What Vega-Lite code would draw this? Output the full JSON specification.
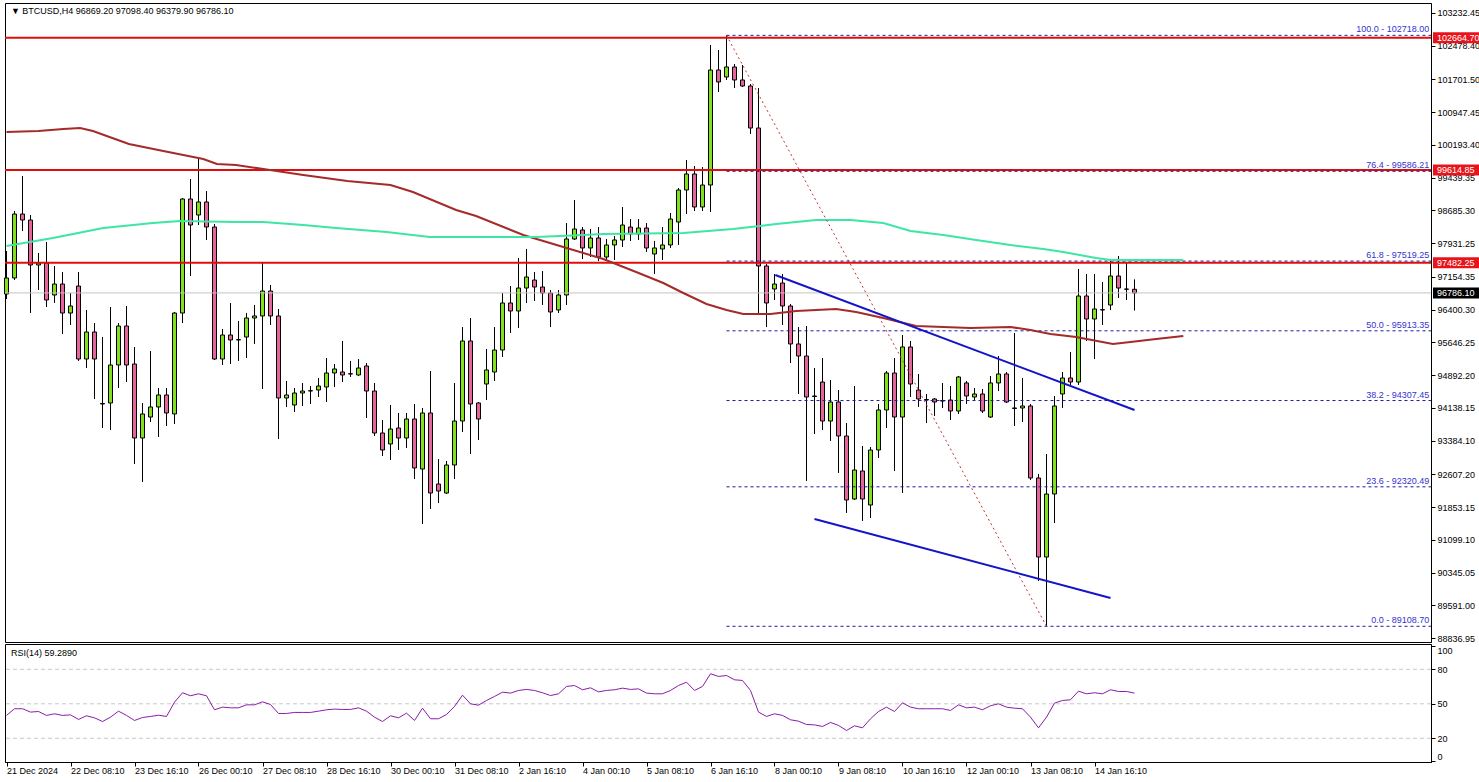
{
  "$schema": "https://vega.github.io/schema/vega-lite/v6.json",
  "padding": {"left": 2, "top": 2, "right": 0, "bottom": 0},
  "background": "white",
  "spacing": 2,
  "bounds": "flush",
  "config": {
    "view": {"stroke": "black", "strokeWidth": 1},
    "axis": {"labelFont": "Liberation Sans", "labelFontSize": 9, "labelColor": "black", "domainColor": "black", "tickColor": "black", "grid": false, "labelOverlap": false}
  },
  "datasets": {
    "candles": [
      {"i":0,"o":96761,"h":97751,"l":96646,"c":97130},
      {"i":1,"o":97130,"h":98673,"l":97083,"c":98603},
      {"i":2,"o":98603,"h":99479,"l":98212,"c":98465},
      {"i":3,"o":98465,"h":98580,"l":96323,"c":97429},
      {"i":4,"o":97429,"h":97705,"l":96853,"c":97475},
      {"i":5,"o":97475,"h":97959,"l":96462,"c":96623},
      {"i":6,"o":96738,"h":97406,"l":96554,"c":96991},
      {"i":7,"o":96991,"h":97268,"l":95840,"c":96323},
      {"i":8,"o":96323,"h":96784,"l":96047,"c":96485},
      {"i":9,"o":96945,"h":97268,"l":95218,"c":95264},
      {"i":10,"o":95264,"h":96393,"l":95057,"c":95886},
      {"i":11,"o":95886,"h":96093,"l":94343,"c":95264},
      {"i":12,"o":94228,"h":95771,"l":93675,"c":94240},
      {"i":13,"o":94251,"h":96462,"l":93629,"c":95126},
      {"i":14,"o":95126,"h":96093,"l":94596,"c":96024},
      {"i":15,"o":96024,"h":96485,"l":94734,"c":95126},
      {"i":16,"o":95149,"h":95541,"l":92846,"c":93445},
      {"i":17,"o":93445,"h":94251,"l":92432,"c":93998},
      {"i":18,"o":93928,"h":95448,"l":93813,"c":94159},
      {"i":19,"o":94159,"h":94596,"l":93468,"c":94435},
      {"i":20,"o":94435,"h":94596,"l":93721,"c":94021},
      {"i":21,"o":93998,"h":96347,"l":93767,"c":96323},
      {"i":22,"o":96323,"h":98972,"l":96093,"c":98949},
      {"i":23,"o":98949,"h":99410,"l":97176,"c":98350},
      {"i":24,"o":98580,"h":99893,"l":98350,"c":98880},
      {"i":25,"o":98880,"h":99133,"l":98005,"c":98304},
      {"i":26,"o":98304,"h":98373,"l":95241,"c":95264},
      {"i":27,"o":95264,"h":95955,"l":95126,"c":95817},
      {"i":28,"o":95817,"h":96554,"l":95149,"c":95702},
      {"i":29,"o":95702,"h":96139,"l":95218,"c":95710},
      {"i":30,"o":95771,"h":96323,"l":95287,"c":96208},
      {"i":31,"o":96208,"h":96508,"l":95610,"c":96255},
      {"i":32,"o":96255,"h":97475,"l":94573,"c":96830},
      {"i":33,"o":96830,"h":96968,"l":96047,"c":96255},
      {"i":34,"o":96255,"h":96416,"l":93422,"c":94366},
      {"i":35,"o":94366,"h":94758,"l":94159,"c":94435},
      {"i":36,"o":94205,"h":94596,"l":94044,"c":94481},
      {"i":37,"o":94481,"h":94712,"l":94182,"c":94527},
      {"i":38,"o":94527,"h":94642,"l":94228,"c":94535},
      {"i":39,"o":94550,"h":94827,"l":94389,"c":94642},
      {"i":40,"o":94619,"h":95287,"l":94274,"c":94942},
      {"i":41,"o":94942,"h":95149,"l":94619,"c":95034},
      {"i":42,"o":94965,"h":95679,"l":94734,"c":94896},
      {"i":43,"o":94919,"h":95218,"l":94850,"c":94925},
      {"i":44,"o":94896,"h":95264,"l":94873,"c":95057},
      {"i":45,"o":95103,"h":95172,"l":93905,"c":94527},
      {"i":46,"o":94527,"h":94712,"l":93491,"c":93560},
      {"i":47,"o":93560,"h":93859,"l":93030,"c":93168},
      {"i":48,"o":93307,"h":94205,"l":92938,"c":93652},
      {"i":49,"o":93675,"h":94021,"l":93168,"c":93445},
      {"i":50,"o":93445,"h":94021,"l":93215,"c":93882},
      {"i":51,"o":93882,"h":94228,"l":92501,"c":92754},
      {"i":52,"o":92731,"h":94136,"l":91464,"c":94021},
      {"i":53,"o":94021,"h":94988,"l":91810,"c":92178},
      {"i":54,"o":92385,"h":92961,"l":91948,"c":92224},
      {"i":55,"o":92178,"h":92915,"l":92155,"c":92823},
      {"i":56,"o":92823,"h":94712,"l":92501,"c":93836},
      {"i":57,"o":93836,"h":96001,"l":93583,"c":95679},
      {"i":58,"o":95679,"h":96208,"l":93076,"c":94228},
      {"i":59,"o":94251,"h":94274,"l":93399,"c":93882},
      {"i":60,"o":94688,"h":95495,"l":94320,"c":95011},
      {"i":61,"o":94965,"h":96001,"l":94758,"c":95471},
      {"i":62,"o":95471,"h":96784,"l":95310,"c":96554},
      {"i":63,"o":96554,"h":96945,"l":95863,"c":96370},
      {"i":64,"o":96370,"h":97590,"l":95978,"c":96899},
      {"i":65,"o":96899,"h":97798,"l":96554,"c":97153},
      {"i":66,"o":97083,"h":97268,"l":96600,"c":96922},
      {"i":67,"o":96922,"h":97291,"l":96508,"c":96784},
      {"i":68,"o":96784,"h":96853,"l":96001,"c":96347},
      {"i":69,"o":96393,"h":96853,"l":96323,"c":96738},
      {"i":70,"o":96738,"h":98396,"l":96508,"c":98028},
      {"i":71,"o":98028,"h":98926,"l":98005,"c":98258},
      {"i":72,"o":98235,"h":98304,"l":97567,"c":97821},
      {"i":73,"o":97821,"h":98258,"l":97613,"c":98051},
      {"i":74,"o":98051,"h":98304,"l":97521,"c":97613},
      {"i":75,"o":97613,"h":98028,"l":97521,"c":97890},
      {"i":76,"o":97890,"h":98097,"l":97544,"c":98005},
      {"i":77,"o":98005,"h":98765,"l":97844,"c":98350},
      {"i":78,"o":98304,"h":98488,"l":97982,"c":98143},
      {"i":79,"o":98143,"h":98488,"l":98005,"c":98281},
      {"i":80,"o":98281,"h":98396,"l":97728,"c":97821},
      {"i":81,"o":97682,"h":97982,"l":97222,"c":97821},
      {"i":82,"o":97798,"h":98304,"l":97544,"c":97890},
      {"i":83,"o":97890,"h":98627,"l":97821,"c":98488},
      {"i":84,"o":98419,"h":99202,"l":97890,"c":99156},
      {"i":85,"o":99156,"h":99847,"l":98603,"c":99525},
      {"i":86,"o":99525,"h":99709,"l":98673,"c":98765},
      {"i":87,"o":98765,"h":99686,"l":98673,"c":99271},
      {"i":88,"o":99271,"h":102496,"l":98650,"c":101920},
      {"i":89,"o":101920,"h":102380,"l":101413,"c":101644},
      {"i":90,"o":101759,"h":102718,"l":101690,"c":101989},
      {"i":91,"o":101989,"h":102058,"l":101505,"c":101690},
      {"i":92,"o":101690,"h":102035,"l":101528,"c":101551},
      {"i":93,"o":101551,"h":101597,"l":100446,"c":100584},
      {"i":94,"o":100584,"h":101505,"l":96300,"c":97406},
      {"i":95,"o":97406,"h":97452,"l":96001,"c":96554},
      {"i":96,"o":96876,"h":97222,"l":96623,"c":96991},
      {"i":97,"o":97014,"h":97222,"l":96047,"c":96485},
      {"i":98,"o":96485,"h":96531,"l":95172,"c":95610},
      {"i":99,"o":95610,"h":96001,"l":94458,"c":95333},
      {"i":100,"o":95333,"h":96024,"l":92455,"c":94389},
      {"i":101,"o":94412,"h":95057,"l":93537,"c":94400},
      {"i":102,"o":94734,"h":95287,"l":93629,"c":93836},
      {"i":103,"o":93836,"h":94781,"l":93376,"c":94274},
      {"i":104,"o":94274,"h":94550,"l":92639,"c":93491},
      {"i":105,"o":93491,"h":93790,"l":91718,"c":92017},
      {"i":106,"o":92040,"h":94642,"l":92017,"c":92708},
      {"i":107,"o":92685,"h":93261,"l":91533,"c":92040},
      {"i":108,"o":91902,"h":93238,"l":91602,"c":93168},
      {"i":109,"o":93168,"h":94228,"l":92984,"c":94090},
      {"i":110,"o":94090,"h":94988,"l":93675,"c":94942},
      {"i":111,"o":94942,"h":95287,"l":92685,"c":93928},
      {"i":112,"o":93928,"h":95817,"l":92178,"c":95541},
      {"i":113,"o":95541,"h":95679,"l":94389,"c":94688},
      {"i":114,"o":94550,"h":94919,"l":94159,"c":94343},
      {"i":115,"o":94320,"h":94458,"l":93790,"c":94330},
      {"i":116,"o":94343,"h":94366,"l":93952,"c":94274},
      {"i":117,"o":94297,"h":94712,"l":94136,"c":94305},
      {"i":118,"o":94320,"h":94642,"l":93859,"c":94067},
      {"i":119,"o":94067,"h":94873,"l":93998,"c":94850},
      {"i":120,"o":94712,"h":94758,"l":94228,"c":94412},
      {"i":121,"o":94389,"h":94596,"l":94320,"c":94458},
      {"i":122,"o":94458,"h":94573,"l":94021,"c":94067},
      {"i":123,"o":93928,"h":94873,"l":93905,"c":94712},
      {"i":124,"o":94712,"h":95333,"l":94527,"c":94919},
      {"i":125,"o":94919,"h":94965,"l":94251,"c":94274},
      {"i":126,"o":94136,"h":95863,"l":93721,"c":94125},
      {"i":127,"o":94136,"h":94827,"l":93813,"c":94182},
      {"i":128,"o":94182,"h":94228,"l":92478,"c":92524},
      {"i":129,"o":92524,"h":92616,"l":90152,"c":90704},
      {"i":130,"o":90704,"h":93076,"l":89108.7,"c":92155},
      {"i":131,"o":92155,"h":94412,"l":91487,"c":94182},
      {"i":132,"o":94458,"h":94965,"l":94136,"c":94827},
      {"i":133,"o":94827,"h":95425,"l":94665,"c":94734},
      {"i":134,"o":94734,"h":97337,"l":94665,"c":96715},
      {"i":135,"o":96715,"h":97222,"l":95679,"c":96185},
      {"i":136,"o":96185,"h":97222,"l":95264,"c":96416},
      {"i":137,"o":96393,"h":97038,"l":96047,"c":96400},
      {"i":138,"o":96508,"h":97521,"l":96393,"c":97176},
      {"i":139,"o":97176,"h":97636,"l":96669,"c":96899},
      {"i":140,"o":96876,"h":97498,"l":96623,"c":96870},
      {"i":141,"o":96869.2,"h":97098.4,"l":96379.9,"c":96786.1}
    ],
    "ma1": [
      {"t":0,"p":100492},{"t":4,"p":100515},{"t":7.1,"p":100561},{"t":9.2,"p":100584},{"t":10.8,"p":100515},
      {"t":15.3,"p":100216},{"t":19.6,"p":100054},{"t":24.6,"p":99870},{"t":26.3,"p":99755},{"t":28.7,"p":99732},
      {"t":32.1,"p":99640},{"t":37.1,"p":99502},{"t":42.6,"p":99364},{"t":48,"p":99271},{"t":50.8,"p":99110},
      {"t":56.2,"p":98696},{"t":58.7,"p":98558},{"t":64.6,"p":98120},{"t":69.6,"p":97844},{"t":74.6,"p":97567},
      {"t":78.7,"p":97268},{"t":82.1,"p":97014},{"t":84.6,"p":96784},{"t":87.5,"p":96531},{"t":90,"p":96393},
      {"t":92.1,"p":96300},{"t":95.5,"p":96300},{"t":98.7,"p":96370},{"t":103.7,"p":96416},{"t":106.2,"p":96347},
      {"t":109.6,"p":96208},{"t":113.7,"p":96024},{"t":117.1,"p":96001},{"t":120.5,"p":95978},{"t":125.5,"p":96001},
      {"t":128,"p":95932},{"t":130.5,"p":95840},{"t":133.7,"p":95771},{"t":138.3,"p":95610},{"t":140.5,"p":95656},
      {"t":143.7,"p":95725},{"t":147.1,"p":95794}
    ],
    "ma2": [
      {"t":0,"p":97867},{"t":5.8,"p":98051},{"t":12.1,"p":98281},{"t":18.3,"p":98396},{"t":21.7,"p":98442},
      {"t":28.7,"p":98419},{"t":32.1,"p":98419},{"t":37.1,"p":98350},{"t":41.2,"p":98281},{"t":47.5,"p":98189},
      {"t":52.9,"p":98074},{"t":62.1,"p":98074},{"t":66.2,"p":98074},{"t":72.1,"p":98120},{"t":74.6,"p":98143},
      {"t":84.6,"p":98166},{"t":90.8,"p":98258},{"t":96.2,"p":98373},{"t":101.2,"p":98465},{"t":105.5,"p":98465},
      {"t":109.6,"p":98396},{"t":113,"p":98212},{"t":117.1,"p":98120},{"t":121.2,"p":98005},{"t":125.5,"p":97890},
      {"t":129.6,"p":97798},{"t":132.1,"p":97728},{"t":136.2,"p":97590},{"t":138,"p":97544},{"t":147.1,"p":97544}
    ],
    "hlines": [{"p":102664.7},{"p":99614.85},{"p":97482.25}],
    "fib": [
      {"p":102718.0,"lab":"100.0 - 102718.00"},
      {"p":99586.21,"lab":"76.4 - 99586.21"},
      {"p":97519.25,"lab":"61.8 - 97519.25"},
      {"p":95913.35,"lab":"50.0 - 95913.35"},
      {"p":94307.45,"lab":"38.2 - 94307.45"},
      {"p":92320.49,"lab":"23.6 - 92320.49"},
      {"p":89108.7,"lab":"0.0 - 89108.70"}
    ],
    "trend": [
      {"id":"diag","t":90,"p":102718},{"id":"diag","t":130,"p":89108.7},
      {"id":"upper","t":96.1,"p":97199},{"id":"upper","t":141,"p":94090},
      {"id":"lower","t":101,"p":91580},{"id":"lower","t":138,"p":89760}
    ],
    "tags": [
      {"p":102664.7,"lab":"102664.70","k":"red"},
      {"p":99614.85,"lab":"99614.85","k":"red"},
      {"p":97482.25,"lab":"97482.25","k":"red"},
      {"p":96786.1,"lab":"96786.10","k":"black"}
    ],
    "rsi": [
      {"i":0,"v":39.9},{"i":1,"v":45.7},{"i":2,"v":45.7},{"i":3,"v":42.8},{"i":4,"v":43.3},{"i":5,"v":39.9},{"i":6,"v":41.3},{"i":7,"v":39.9},{"i":8,"v":40.4},{"i":9,"v":36.4},
      {"i":10,"v":39.6},{"i":11,"v":37.8},{"i":12,"v":34.6},{"i":13,"v":38.4},{"i":14,"v":43.6},{"i":15,"v":39.9},{"i":16,"v":35.5},{"i":17,"v":38.1},{"i":18,"v":39.0},{"i":19,"v":40.1},
      {"i":20,"v":39.0},{"i":21,"v":51.4},{"i":22,"v":59.6},{"i":23,"v":57.0},{"i":24,"v":58.7},{"i":25,"v":57.0},{"i":26,"v":44.8},{"i":27,"v":47.1},{"i":28,"v":46.5},{"i":29,"v":46.5},
      {"i":30,"v":49.1},{"i":31,"v":49.1},{"i":32,"v":51.7},{"i":33,"v":49.4},{"i":34,"v":41.6},{"i":35,"v":41.6},{"i":36,"v":42.5},{"i":37,"v":42.5},{"i":38,"v":42.5},{"i":39,"v":43.6},
      {"i":40,"v":44.8},{"i":41,"v":45.4},{"i":42,"v":45.1},{"i":43,"v":45.1},{"i":44,"v":46.5},{"i":45,"v":43.6},{"i":46,"v":38.4},{"i":47,"v":34.6},{"i":48,"v":39.6},{"i":49,"v":37.8},
      {"i":50,"v":41.9},{"i":51,"v":35.5},{"i":52,"v":46.2},{"i":53,"v":37.0},{"i":54,"v":37.0},{"i":55,"v":40.7},{"i":56,"v":47.7},{"i":57,"v":57.5},{"i":58,"v":50.0},{"i":59,"v":48.8},
      {"i":60,"v":52.9},{"i":61,"v":56.4},{"i":62,"v":60.1},{"i":63,"v":59.3},{"i":64,"v":61.6},{"i":65,"v":62.5},{"i":66,"v":61.6},{"i":67,"v":59.6},{"i":68,"v":57.2},{"i":69,"v":58.7},
      {"i":70,"v":65.1},{"i":71,"v":65.9},{"i":72,"v":62.2},{"i":73,"v":63.9},{"i":74,"v":60.4},{"i":75,"v":61.6},{"i":76,"v":62.2},{"i":77,"v":63.6},{"i":78,"v":62.5},{"i":79,"v":63.0},
      {"i":80,"v":59.3},{"i":81,"v":58.7},{"i":82,"v":58.7},{"i":83,"v":61.6},{"i":84,"v":65.9},{"i":85,"v":68.8},{"i":86,"v":61.6},{"i":87,"v":65.1},{"i":88,"v":76.1},{"i":89,"v":73.8},
      {"i":90,"v":74.6},{"i":91,"v":70.9},{"i":92,"v":70.3},{"i":93,"v":61.6},{"i":94,"v":42.8},{"i":95,"v":39.0},{"i":96,"v":41.3},{"i":97,"v":39.9},{"i":98,"v":36.1},{"i":99,"v":34.9},
      {"i":100,"v":32.0},{"i":101,"v":31.7},{"i":102,"v":30.3},{"i":103,"v":33.8},{"i":104,"v":31.2},{"i":105,"v":26.8},{"i":106,"v":30.9},{"i":107,"v":29.1},{"i":108,"v":37.0},{"i":109,"v":43.3},
      {"i":110,"v":47.1},{"i":111,"v":43.3},{"i":112,"v":50.9},{"i":113,"v":47.1},{"i":114,"v":45.7},{"i":115,"v":45.7},{"i":116,"v":45.7},{"i":117,"v":45.7},{"i":118,"v":44.2},{"i":119,"v":49.1},
      {"i":120,"v":46.5},{"i":121,"v":47.1},{"i":122,"v":44.8},{"i":123,"v":48.3},{"i":124,"v":50.0},{"i":125,"v":47.1},{"i":126,"v":46.2},{"i":127,"v":45.7},{"i":128,"v":38.4},{"i":129,"v":29.1},
      {"i":130,"v":38.4},{"i":131,"v":50.6},{"i":132,"v":52.9},{"i":133,"v":53.5},{"i":134,"v":61.0},{"i":135,"v":58.7},{"i":136,"v":59.6},{"i":137,"v":58.7},{"i":138,"v":62.2},{"i":139,"v":60.7},
      {"i":140,"v":60.7},{"i":141,"v":59.289}
    ],
    "rsilev": [{"v":20},{"v":50},{"v":80}]
  },
  "vconcat": [
    {
      "width": 1426,
      "height": 639,
      "layer": [
        {
          "data": {"name": "candles"},
          "mark": {"type": "rule", "color": "black", "strokeWidth": 1},
          "encoding": {
            "x": {"field": "i", "type": "quantitative", "scale": {"domain": [-0.1875, 178.0625], "nice": false, "zero": false, "padding": 0}, "axis": null},
            "y": {"field": "l", "type": "quantitative", "scale": {"domain": [88746.6, 103462.7], "nice": false, "zero": false, "padding": 0},
                  "axis": {"orient": "right", "title": null, "format": ".2f", "tickSize": 4, "labelPadding": 2, "labelOverlap": false, "tickCount": 100,
                           "values": [103232.45, 102478.40, 101701.50, 100947.45, 100193.40, 99439.35, 98685.30, 97931.25, 97154.35, 96400.30, 95646.25, 94892.20, 94138.15, 93384.10, 92607.20, 91853.15, 91099.10, 90345.05, 89591.00, 88836.95]}},
            "y2": {"field": "h"}
          }
        },
        {
          "data": {"name": "candles"},
          "mark": {"type": "bar", "width": 4, "stroke": "black", "strokeWidth": 1, "orient": "vertical"},
          "encoding": {
            "x": {"field": "i", "type": "quantitative"},
            "y": {"field": "o", "type": "quantitative"},
            "y2": {"field": "c"},
            "fill": {"condition": {"test": "datum.c >= datum.o", "value": "#80e01c"}, "value": "#e6649c"}
          }
        },
        {
          "data": {"name": "hlines"},
          "mark": {"type": "rule", "color": "#e00d0d", "strokeWidth": 2},
          "encoding": {"y": {"field": "p", "type": "quantitative"}}
        },
        {
          "data": {"values": [{"p": 96786.1}]},
          "mark": {"type": "rule", "color": "#c4c4c4", "strokeWidth": 1},
          "encoding": {"y": {"field": "p", "type": "quantitative"}}
        },
        {
          "data": {"name": "fib"},
          "mark": {"type": "rule", "color": "#1c1c9c", "strokeWidth": 1, "strokeDash": [3, 3]},
          "encoding": {
            "x": {"datum": 90, "type": "quantitative"},
            "x2": {"datum": 178.0625},
            "y": {"field": "p", "type": "quantitative"}
          }
        },
        {
          "data": {"name": "fib"},
          "mark": {"type": "text", "align": "right", "baseline": "bottom", "dy": -1, "font": "Liberation Sans", "fontSize": 9, "color": "#3434cc"},
          "encoding": {
            "x": {"datum": 177.85, "type": "quantitative"},
            "y": {"field": "p", "type": "quantitative"},
            "text": {"field": "lab"}
          }
        },
        {
          "data": {"name": "ma1"},
          "mark": {"type": "line", "color": "#a52a2a", "strokeWidth": 2},
          "encoding": {"x": {"field": "t", "type": "quantitative"}, "y": {"field": "p", "type": "quantitative"}}
        },
        {
          "data": {"name": "ma2"},
          "mark": {"type": "line", "color": "#3de6a4", "strokeWidth": 2},
          "encoding": {"x": {"field": "t", "type": "quantitative"}, "y": {"field": "p", "type": "quantitative"}}
        },
        {
          "data": {"name": "trend"},
          "transform": [{"filter": "datum.id === 'diag'"}],
          "mark": {"type": "line", "color": "#c83232", "strokeWidth": 1, "strokeDash": [2, 3]},
          "encoding": {"x": {"field": "t", "type": "quantitative"}, "y": {"field": "p", "type": "quantitative"}, "detail": {"field": "id"}}
        },
        {
          "data": {"name": "trend"},
          "transform": [{"filter": "datum.id !== 'diag'"}],
          "mark": {"type": "line", "color": "#1414c8", "strokeWidth": 2},
          "encoding": {"x": {"field": "t", "type": "quantitative"}, "y": {"field": "p", "type": "quantitative"}, "detail": {"field": "id"}}
        },
        {
          "data": {"name": "tags"},
          "mark": {"type": "bar", "orient": "horizontal", "height": 11},
          "encoding": {
            "x": {"datum": 178.3125, "type": "quantitative"},
            "x2": {"datum": 184.3125},
            "y": {"field": "p", "type": "quantitative"},
            "fill": {"condition": {"test": "datum.k === 'red'", "value": "#e8141c"}, "value": "black"}
          }
        },
        {
          "data": {"name": "tags"},
          "mark": {"type": "text", "align": "left", "baseline": "middle", "font": "Liberation Sans", "fontSize": 9, "color": "white"},
          "encoding": {
            "x": {"datum": 178.8, "type": "quantitative"},
            "y": {"field": "p", "type": "quantitative"},
            "text": {"field": "lab"}
          }
        },
        {
          "data": {"values": [{"s": "▼ BTCUSD,H4  96869.20 97098.40 96379.90 96786.10"}]},
          "mark": {"type": "text", "align": "left", "baseline": "middle", "font": "Liberation Sans", "fontSize": 9, "color": "black"},
          "encoding": {
            "x": {"datum": 0.55, "type": "quantitative"},
            "y": {"datum": 103278, "type": "quantitative"},
            "text": {"field": "s"}
          }
        }
      ]
    },
    {
      "width": 1426,
      "height": 118,
      "layer": [
        {
          "data": {"name": "rsilev"},
          "mark": {"type": "rule", "color": "#c8c8c8", "strokeWidth": 1, "strokeDash": [4, 3]},
          "encoding": {
            "y": {"field": "v", "type": "quantitative", "scale": {"domain": [-0.6, 102], "nice": false, "zero": false, "padding": 0},
                  "axis": {"orient": "right", "title": null, "values": [0, 20, 50, 80, 100], "tickCount": 100, "tickSize": 4, "labelPadding": 2, "labelFlush": 5}}
          }
        },
        {
          "data": {"name": "rsi"},
          "mark": {"type": "line", "color": "#8a1ca8", "strokeWidth": 1},
          "encoding": {
            "x": {"field": "i", "type": "quantitative", "scale": {"domain": [-0.1875, 178.0625], "nice": false, "zero": false, "padding": 0},
                  "axis": {"orient": "bottom", "title": null, "values": [0, 8, 16, 24, 32, 40, 48, 56, 64, 72, 80, 88, 96, 104, 112, 120, 128, 136], "tickCount": 100,
                           "labelExpr": "['21 Dec 2024','22 Dec 08:10','23 Dec 16:10','26 Dec 00:10','27 Dec 08:10','28 Dec 16:10','30 Dec 00:10','31 Dec 08:10','2 Jan 16:10','4 Jan 00:10','5 Jan 08:10','6 Jan 16:10','8 Jan 00:10','9 Jan 08:10','10 Jan 16:10','12 Jan 00:10','13 Jan 08:10','14 Jan 16:10'][round(datum.value / 8)]",
                           "labelAlign": "left", "tickSize": 4, "labelPadding": 0, "labelOverlap": false, "labelBound": false}},
            "y": {"field": "v", "type": "quantitative"}
          }
        },
        {
          "data": {"values": [{"s": "RSI(14) 59.2890"}]},
          "mark": {"type": "text", "align": "left", "baseline": "middle", "font": "Liberation Sans", "fontSize": 9, "color": "black"},
          "encoding": {
            "x": {"datum": 0.55, "type": "quantitative"},
            "y": {"datum": 94.2, "type": "quantitative"},
            "text": {"field": "s"}
          }
        }
      ]
    }
  ]
}
